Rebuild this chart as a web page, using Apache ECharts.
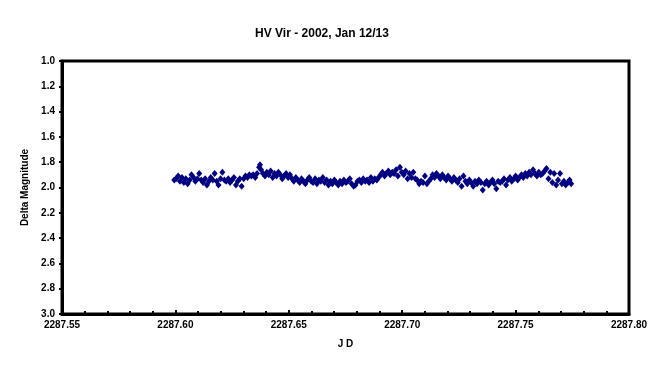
<!DOCTYPE html>
<html><head><meta charset="utf-8">
<script src="https://cdn.jsdelivr.net/npm/echarts@6/dist/echarts.min.js"></script>
<style>html,body{margin:0;padding:0;background:#fff}#c{width:666px;height:370px}</style>
</head><body><div id="c"></div>
<script>
const titleText = "HV Vir - 2002, Jan 12/13";
const xName = "J D";
const yName = "Delta Magnitude";
const xMin = 2287.55, xMax = 2287.80, xStep = 0.05;
const yMin = 1.0, yMax = 3.0, yStep = 0.2;

const jd = [
2287.5995,2287.6003,2287.6012,2287.6020,2287.6029,2287.6037,2287.6046,2287.6054,2287.6063,2287.6071,
2287.6080,2287.6088,2287.6097,2287.6105,2287.6114,2287.6122,2287.6131,2287.6139,2287.6148,2287.6156,
2287.6165,2287.6173,2287.6182,2287.6190,2287.6199,2287.6207,2287.6216,2287.6224,2287.6233,2287.6241,
2287.6250,2287.6258,2287.6267,2287.6275,2287.6284,2287.6292,2287.6301,2287.6309,2287.6318,2287.6326,
2287.6335,2287.6343,2287.6352,2287.6360,2287.6369,2287.6373,2287.6378,2287.6386,2287.6395,2287.6403,
2287.6412,2287.6420,2287.6429,2287.6437,2287.6446,2287.6454,2287.6463,2287.6471,2287.6480,2287.6488,
2287.6497,2287.6505,
2287.6514,2287.6522,2287.6531,2287.6539,2287.6548,2287.6556,2287.6565,2287.6573,2287.6582,2287.6590,
2287.6599,2287.6607,2287.6616,2287.6624,2287.6633,2287.6641,2287.6650,2287.6658,2287.6667,2287.6675,
2287.6684,2287.6692,2287.6701,2287.6709,2287.6718,2287.6726,2287.6735,2287.6743,2287.6752,2287.6760,
2287.6769,2287.6777,2287.6786,2287.6794,2287.6803,2287.6811,2287.6820,2287.6828,2287.6837,2287.6845,
2287.6854,2287.6862,2287.6871,2287.6879,2287.6888,2287.6896,
2287.6905,2287.6913,2287.6922,2287.6930,2287.6939,2287.6947,2287.6956,2287.6964,2287.6973,2287.6981,
2287.6990,2287.6998,2287.7007,2287.7015,2287.7024,2287.7032,2287.7041,2287.7049,2287.7058,
2287.7066,2287.7075,2287.7083,2287.7092,2287.7100,2287.7109,2287.7117,2287.7126,2287.7134,2287.7143,
2287.7151,2287.7160,2287.7168,2287.7177,2287.7185,2287.7194,2287.7202,2287.7211,2287.7219,2287.7228,
2287.7236,2287.7245,2287.7253,2287.7262,2287.7270,2287.7279,2287.7287,2287.7296,2287.7304,2287.7313,
2287.7321,2287.7330,2287.7338,2287.7347,2287.7355,2287.7364,2287.7372,2287.7381,2287.7389,2287.7398,
2287.7406,2287.7415,2287.7423,2287.7432,
2287.7441,2287.7449,2287.7458,2287.7466,2287.7475,2287.7483,2287.7492,2287.7500,2287.7509,2287.7517,
2287.7526,2287.7534,2287.7543,2287.7551,2287.7560,2287.7568,2287.7577,2287.7585,2287.7594,2287.7602,
2287.7611,2287.7619,2287.7628,2287.7636,2287.7645,2287.7653,2287.7662,2287.7670,2287.7679,2287.7687,
2287.7696,2287.7704,2287.7713,2287.7721,2287.7730,2287.7738,2287.7745
];
const mag = [
1.94,1.93,1.91,1.95,1.92,1.96,1.93,1.97,1.94,1.90,
1.92,1.95,1.93,1.89,1.94,1.96,1.93,1.98,1.95,1.92,
1.94,1.89,1.95,1.98,1.93,1.88,1.94,1.95,1.93,1.96,
1.94,1.92,1.98,1.95,1.93,1.99,1.93,1.91,1.92,1.90,
1.91,1.90,1.92,1.89,1.84,1.82,1.86,1.89,1.91,1.88,
1.90,1.87,1.92,1.89,1.91,1.88,1.90,1.93,1.91,1.89,
1.92,1.90,
1.93,1.95,1.92,1.94,1.96,1.93,1.95,1.97,1.94,1.92,
1.95,1.96,1.93,1.97,1.94,1.95,1.92,1.96,1.94,1.98,
1.95,1.97,1.94,1.96,1.98,1.95,1.97,1.94,1.96,1.95,
1.93,1.97,1.99,1.98,1.95,1.94,1.96,1.93,1.95,1.94,
1.96,1.92,1.95,1.93,1.94,1.92,
1.90,1.88,1.91,1.89,1.87,1.90,1.88,1.89,1.86,1.91,
1.84,1.88,1.90,1.87,1.93,1.89,1.92,1.88,1.93,
1.94,1.97,1.95,1.96,1.91,1.97,1.95,1.93,1.90,1.92,
1.89,1.91,1.93,1.90,1.92,1.94,1.91,1.93,1.95,1.92,
1.94,1.96,1.93,1.99,1.91,1.95,1.97,1.94,1.96,1.99,
1.95,1.97,1.94,1.96,2.02,1.97,1.95,1.98,1.96,1.94,
1.97,2.01,1.95,1.96,
1.95,1.93,1.98,1.94,1.92,1.95,1.93,1.91,1.94,1.92,
1.90,1.92,1.89,1.91,1.88,1.90,1.86,1.89,1.91,1.88,
1.90,1.89,1.87,1.85,1.93,1.88,1.96,1.89,1.98,1.94,
1.89,1.97,1.95,1.98,1.96,1.94,1.97
];

const points = jd.map((x, i) => [x, mag[i]]);
const font = 'Liberation Sans, Arial, sans-serif';
const chart = echarts.init(document.getElementById('c'), null, {renderer: 'canvas'});
chart.setOption({
  animation: false,
  backgroundColor: '#fff',
  title: {
    text: titleText, left: 317, top: 23, textAlign: 'center',
    textStyle: {fontFamily: font, fontSize: 12, fontWeight: 'bold', color: '#000'}
  },
  grid: {left: 62, top: 61, right: 37, bottom: 56, show: true, borderColor: '#000', borderWidth: 3, backgroundColor: '#fff'},
  xAxis: {
    type: 'value', min: xMin, max: xMax, interval: xStep,
    name: xName, nameLocation: 'middle', nameGap: 25,
    nameTextStyle: {fontFamily: font, fontSize: 10, fontWeight: 'bold', color: '#000'},
    axisLine: {show: true, lineStyle: {color: '#000', width: 3}},
    axisTick: {show: true, inside: true, length: 4, lineStyle: {color: '#000', width: 2}},
    minorTick: {show: true, splitNumber: 5, length: 3, lineStyle: {color: '#000', width: 2}},
    splitLine: {show: false},
    axisLabel: {fontFamily: font, fontSize: 10, fontWeight: 'bold', color: '#000', margin: 6,
      formatter: v => v.toFixed(2)}
  },
  yAxis: {
    type: 'value', inverse: true, min: yMin, max: yMax, interval: yStep,
    name: yName, nameLocation: 'middle', nameGap: 29,
    nameTextStyle: {fontFamily: font, fontSize: 10, fontWeight: 'bold', color: '#000'},
    axisLine: {show: true, lineStyle: {color: '#000', width: 3}},
    axisTick: {show: true, inside: false, length: 3, lineStyle: {color: '#000', width: 2}},
    splitLine: {show: false},
    axisLabel: {fontFamily: font, fontSize: 10, fontWeight: 'bold', color: '#000', margin: 7,
      formatter: v => v.toFixed(1)}
  },
  series: [{
    type: 'scatter', data: points, symbol: 'diamond', symbolSize: [6, 7],
    itemStyle: {color: '#000080', opacity: 1}
  }]
});
</script></body></html>
